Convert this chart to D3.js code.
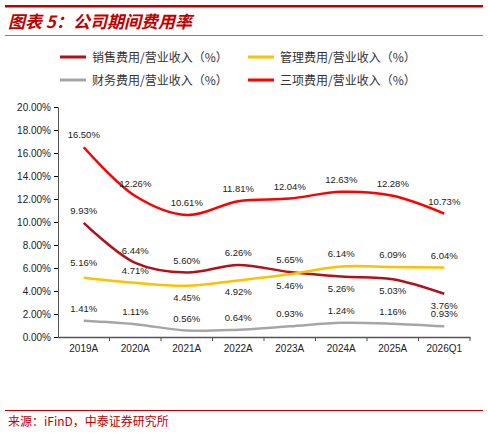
<!DOCTYPE html>
<html><head><meta charset="utf-8">
<script src="https://cdn.jsdelivr.net/npm/d3@7"></script>
<style>body{margin:0;background:#fff;font-family:"Noto Sans CJK SC",sans-serif}</style>
</head><body>
<script>
const years = ["2019A","2020A","2021A","2022A","2023A","2024A","2025A","2026Q1"];
const sales = [9.93,6.44,5.60,6.26,5.65,5.26,5.03,3.76];
const admin = [5.16,4.71,4.45,4.92,5.46,6.14,6.09,6.04];
const fin = [1.41,1.11,0.56,0.64,0.93,1.24,1.16,0.93];
const total = [16.50,12.26,10.61,11.81,12.04,12.63,12.28,10.73];
const yTicks = [0,2,4,6,8,10,12,14,16,18,20];

const series = [
  {name:"销售费用/营业收入（%）", vals:sales, color:"#b0111b"},
  {name:"管理费用/营业收入（%）", vals:admin, color:"#ffc000"},
  {name:"财务费用/营业收入（%）", vals:fin, color:"#a6a6a6"},
  {name:"三项费用/营业收入（%）", vals:total, color:"#ff0000"}
];
// label offsets tuned to avoid overlaps
series[0].dys = [-9,-9,-9,-9,-9,15,15,15];
series[1].dys = [-12,-9,15,15,15,-9,-9,-9];
series[2].dys = fin.map(()=>-9);
series[3].dys = total.map(()=>-9);

const svg = d3.select("body").append("svg").attr("width",488).attr("height",447);
svg.append("rect").attr("x",5).attr("y",5).attr("width",478).attr("height",2.5).attr("fill","#c00000");
svg.append("text").attr("x",8).attr("y",28).attr("fill","#c00000").attr("font-size",17)
  .attr("font-weight","bold").attr("font-style","italic").text("图表 5：公司期间费用率");
svg.append("rect").attr("x",5).attr("y",35).attr("width",478).attr("height",1).attr("fill","#d06060");

// legend
const leg = [[60,57,0],[248,57,1],[60,80,2],[248,80,3]];
leg.forEach(([x,y,i])=>{
  svg.append("line").attr("x1",x).attr("x2",x+26).attr("y1",y).attr("y2",y)
    .attr("stroke",series[i].color).attr("stroke-width",3);
  svg.append("text").attr("x",x+32).attr("y",y+4.5).attr("font-size",12).attr("fill","#333").text(series[i].name);
});

const x = d3.scaleBand().domain(years).range([58,470]);
const y = d3.scaleLinear().domain([0,20]).range([337,107]);

svg.append("g").attr("transform","translate(58,0)")
  .call(d3.axisLeft(y).tickValues(yTicks).tickFormat(d=>d.toFixed(2)+"%").tickSize(4))
  .call(g=>g.selectAll("text").attr("font-size",10).attr("font-family","Liberation Sans, Arial").attr("fill","#222"))
  .call(g=>g.select(".domain").attr("stroke","#555"));
svg.append("g").attr("transform","translate(0,337)")
  .call(d3.axisBottom(x).tickSize(0).tickPadding(8))
  .call(g=>g.selectAll("text").attr("font-size",10).attr("font-family","Liberation Sans, Arial").attr("fill","#222"))
  .call(g=>g.select(".domain").attr("stroke","#555").attr("stroke-width",1.5));
svg.append("g").selectAll("line").data(years).join("line")
  .attr("x1",(d,i)=>58+x.step()*(i+1)).attr("x2",(d,i)=>58+x.step()*(i+1))
  .attr("y1",337).attr("y2",341).attr("stroke","#555");

const line = d3.line().x((d,i)=>x(years[i])+x.bandwidth()/2).y(d=>y(d)).curve(d3.curveCatmullRom);
series.forEach(s=>{
  svg.append("path").attr("d",line(s.vals)).attr("fill","none").attr("stroke",s.color).attr("stroke-width",2.5);
  svg.append("g").selectAll("text").data(s.vals).join("text")
    .attr("x",(d,i)=>x(years[i])+x.bandwidth()/2).attr("y",(d,i)=>y(d)+s.dys[i])
    .attr("text-anchor","middle").attr("font-size",9.5).attr("font-family","Liberation Sans, Arial").attr("fill","#222")
    .text(d=>d.toFixed(2)+"%");
});

svg.append("rect").attr("x",5).attr("y",410).attr("width",478).attr("height",1).attr("fill","#c00000");
svg.append("text").attr("x",8).attr("y",426).attr("font-size",12).attr("fill","#c00000").text("来源：iFinD，中泰证券研究所");
</script>
</body></html>
